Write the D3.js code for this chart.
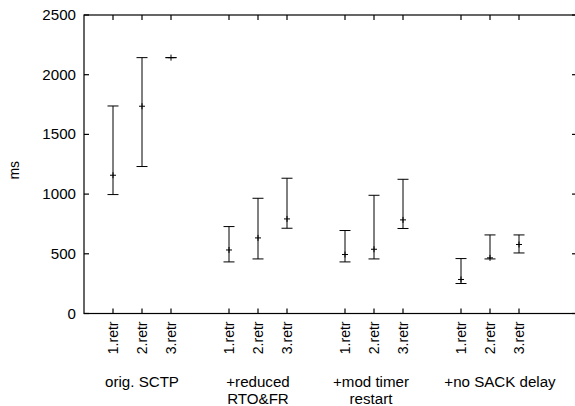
<!DOCTYPE html>
<html>
<head>
    <script src="https://d3js.org/d3.v7.min.js"></script>
    <style>
        body { margin: 0; background: #fff; }
        text { font-family: "Liberation Sans", Arial, sans-serif; font-size: 14px; fill: #000; }
    </style>
</head>
<body>
    <svg></svg>
    <script>
        // Datos
        const groups = [["orig. SCTP"], ["+reduced", "RTO&FR"], ["+mod timer", "restart"], ["+no SACK delay"]];
        const groupLabelShift = [0, 0, -3, 10];
        const retrLabels = ["1.retr", "2.retr", "3.retr"];
        const mean = [1158, 1736, 2143, 532, 633, 792, 494, 538, 784, 285, 466, 578];
        const low  = [996, 1231, 2143, 432, 457, 714, 432, 457, 712, 251, 457, 507];
        const high = [1738, 2143, 2143, 728, 965, 1133, 695, 990, 1124, 460, 658, 658];
        const yTicks = [0, 500, 1000, 1500, 2000, 2500];

        const width = 575, height = 406;
        const m = { left: 84, right: 577, top: 15, bottom: 313.5 };

        const svg = d3.select("svg").attr("width", width).attr("height", height);

        // posición: 1,2,3, 5,6,7, ...
        const pos = i => Math.floor(i / 3) * 4 + (i % 3) + 1;
        const x = d3.scaleLinear().domain([0, 17]).range([m.left, m.right]);
        const y = d3.scaleLinear().domain([0, 2500]).range([m.bottom, m.top]);

        const idx = d3.range(mean.length);

        // Marco
        svg.append("rect")
            .attr("x", m.left).attr("y", m.top)
            .attr("width", m.right - m.left).attr("height", m.bottom - m.top)
            .attr("fill", "none").attr("stroke", "#000").attr("stroke-width", 1.2);

        // Ticks eje x (abajo y arriba)
        const tk = svg.append("g").attr("stroke", "#000").attr("stroke-width", 1.2);
        idx.forEach(i => {
            tk.append("line").attr("x1", x(pos(i))).attr("x2", x(pos(i)))
                .attr("y1", m.bottom).attr("y2", m.bottom - 5);
            tk.append("line").attr("x1", x(pos(i))).attr("x2", x(pos(i)))
                .attr("y1", m.top).attr("y2", m.top + 5);
        });
        yTicks.forEach(t => {
            tk.append("line").attr("x1", m.left).attr("x2", m.left + 5)
                .attr("y1", y(t)).attr("y2", y(t));
            tk.append("line").attr("x1", m.right).attr("x2", m.right - 5)
                .attr("y1", y(t)).attr("y2", y(t));
        });

        // Etiquetas eje y
        svg.append("g").selectAll("text")
            .data(yTicks)
            .join("text")
            .attr("text-anchor", "end")
            .attr("dy", "0.36em")
            .attr("transform", d => `translate(76,${y(d)}) scale(1.08,1)`)
            .text(d => d);

        svg.append("text")
            .attr("text-anchor", "middle")
            .attr("transform", `translate(19,${(m.top + m.bottom) / 2 + 6}) rotate(-90)`)
            .text("ms");

        // Etiquetas x rotadas
        svg.append("g").selectAll("text")
            .data(idx)
            .join("text")
            .attr("text-anchor", "end")
            .attr("dy", "0.35em")
            .attr("transform", i => `translate(${x(pos(i))},${m.bottom + 8}) rotate(-90)`)
            .text(i => retrLabels[i % 3]);

        // Etiquetas de grupo
        groups.forEach((lines, g) => {
            lines.forEach((s, k) => {
                svg.append("text")
                    .attr("text-anchor", "middle")
                    .attr("transform", `translate(${x(g * 4 + 2) + groupLabelShift[g]},${387 + k * 17}) scale(1.08,1)`)
                    .text(s);
            });
        });

        // Barras de error
        const eb = svg.append("g").attr("stroke", "#000").attr("stroke-width", 1);
        const cap = 5.5;
        idx.forEach(i => {
            const cx = x(pos(i));
            if (high[i] > low[i]) {
                eb.append("line").attr("x1", cx).attr("x2", cx).attr("y1", y(low[i])).attr("y2", y(high[i]));
            }
            [low[i], high[i]].forEach(v => {
                eb.append("line").attr("x1", cx - cap).attr("x2", cx + cap).attr("y1", y(v)).attr("y2", y(v));
            });
            // punto
            eb.append("line").attr("x1", cx - 3).attr("x2", cx + 3).attr("y1", y(mean[i])).attr("y2", y(mean[i]));
            eb.append("line").attr("x1", cx).attr("x2", cx).attr("y1", y(mean[i]) - 3).attr("y2", y(mean[i]) + 3);
        });
    </script>
</body>
</html>
